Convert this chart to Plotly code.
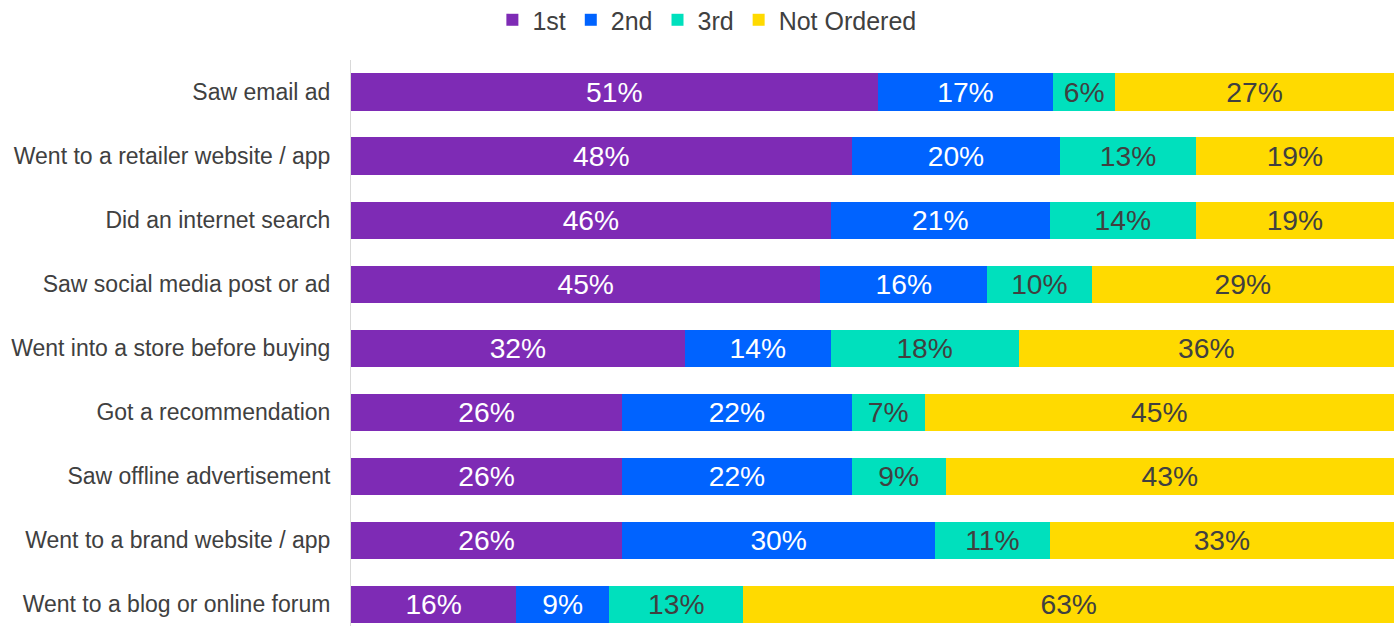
import plotly.graph_objects as go

categories = [
    "Saw email ad",
    "Went to a retailer website / app",
    "Did an internet search",
    "Saw social media post or ad",
    "Went into a store before buying",
    "Got a recommendation",
    "Saw offline advertisement",
    "Went to a brand website / app",
    "Went to a blog or online forum",
]
series_names = ["1st", "2nd", "3rd", "Not Ordered"]
first = [51, 48, 46, 45, 32, 26, 26, 26, 16]
second = [17, 20, 21, 16, 14, 22, 22, 30, 9]
third = [6, 13, 14, 10, 18, 7, 9, 11, 13]
not_ordered = [27, 19, 19, 29, 36, 45, 43, 33, 63]

colors = ["#7E2BB5", "#0063FF", "#00E0BD", "#FFDA00"]
text_colors = ["#FFFFFF", "#FFFFFF", "#404040", "#404040"]

FONT = "Liberation Sans, Arial, sans-serif"

fig = go.Figure()
for name, vals, c, tc in zip(series_names, [first, second, third, not_ordered], colors, text_colors):
    fig.add_trace(go.Bar(
        y=categories, x=vals, name=name, orientation="h",
        marker=dict(color=c, line=dict(width=0)),
        text=[f"{v}%" for v in vals], textposition="inside",
        insidetextanchor="middle", textangle=0,
        textfont=dict(family=FONT, size=29, color=tc),
        hoverinfo="skip",
    ))

fig.update_layout(
    barmode="stack", barnorm="percent", bargap=0.42,
    width=1397, height=626,
    margin=dict(l=351, r=3, t=60, b=0, autoexpand=False),
    plot_bgcolor="white", paper_bgcolor="white",
    font=dict(family=FONT, color="#404040"),
    legend=dict(orientation="h", xref="container", yref="container",
                x=0.506, xanchor="center", y=0.968, yanchor="middle",
                font=dict(size=25, color="#404040"), traceorder="normal",
                itemwidth=30),
    showlegend=True,
)
fig.update_xaxes(range=[0, 100], visible=False, showgrid=False, zeroline=False)
fig.update_yaxes(
    categoryorder="array", categoryarray=categories,
    range=[8.34, -0.5], showline=True, linecolor="#D9D9D9", linewidth=1,
    showgrid=False, zeroline=False, ticks="", ticklabelstandoff=15,
    automargin=False,
    tickfont=dict(size=23, color="#404040"),
)

fig.write_html(
    "out.html",
    config={"displayModeBar": False},
    post_script="document.body.style.margin='0';document.body.style.overflow='hidden';",
)
